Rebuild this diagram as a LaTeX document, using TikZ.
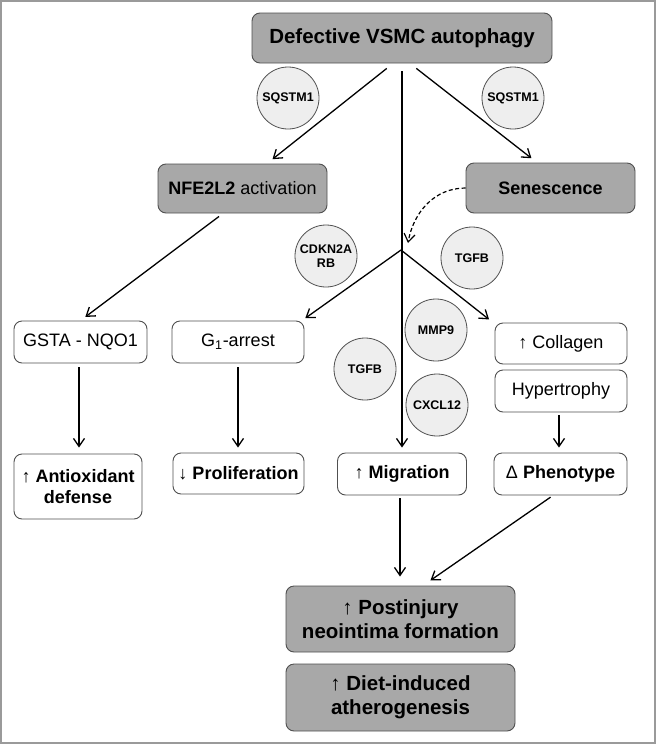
\documentclass[tikz,border=0pt]{standalone}
\usepackage{fontspec}
\setmainfont{Liberation Sans}
\usetikzlibrary{arrows.meta}
\definecolor{boxgray}{HTML}{A8A8A8}
\definecolor{circfill}{HTML}{EEEEEE}
\definecolor{edgegray}{HTML}{505050}
\definecolor{framegray}{HTML}{9A9A9A}
\begin{document}
\begin{tikzpicture}[x=1pt,y=-1pt,
  every node/.style={align=center,inner sep=0pt},
  dark/.style={draw=edgegray,fill=boxgray,rounded corners=8pt,line width=0.9pt},
  light/.style={draw=edgegray,rounded corners=8pt,line width=0.9pt},
  gene/.style={circle,draw=edgegray,fill=circfill,minimum size=62pt,line width=0.8pt,
    font=\fontsize{12.5}{14.5}\selectfont\bfseries},
  big/.style={font=\fontsize{20.5}{24}\selectfont\bfseries},
  mid/.style={font=\fontsize{18}{21}\selectfont},
  arr/.style={-{Straight Barb[length=8pt,width=11pt]},line width=1.3pt}]
\useasboundingbox (0,0) rectangle (656,745);
\draw[framegray,line width=2pt] (1,1) rectangle (655,743);

\node[dark,big,minimum width=300pt,minimum height=50pt] (top) at (402,38) {Defective VSMC autophagy};
\node[dark,mid,minimum width=169pt,minimum height=49pt] (nfe) at (242.5,188.5) {\textbf{NFE2L2} activation};
\node[dark,mid,font=\fontsize{18}{21}\selectfont\bfseries,minimum width=169pt,minimum height=50pt] (sen) at (550.5,188) {Senescence};

\node[light,mid,minimum width=133pt,minimum height=42pt] (gsta) at (80.5,342) {GSTA - NQO1};
\node[light,mid,minimum width=132pt,minimum height=42pt] (gone) at (238,342) {G\textsubscript{1}-arrest};
\node[light,mid,minimum width=132pt,minimum height=41pt] (coll) at (561,343.5) {↑ Collagen};
\node[light,mid,minimum width=132pt,minimum height=42pt] (hyp) at (561,391) {Hypertrophy};

\node[light,mid,minimum width=128pt,minimum height=65pt] (anti) at (78,486.5) {↑ \textbf{Antioxidant}\\\textbf{defense}};
\node[light,mid,minimum width=131pt,minimum height=41pt] (prol) at (238.5,473.5) {↓ \textbf{Proliferation}};
\node[light,mid,minimum width=129pt,minimum height=42pt] (mig) at (402,474) {↑ \textbf{Migration}};
\node[light,mid,minimum width=133pt,minimum height=42pt] (phen) at (560.5,474) {Δ \textbf{Phenotype}};

\node[dark,big,minimum width=229pt,minimum height=66pt] (post) at (400.5,619) {{\mdseries↑} Postinjury\\neointima formation};
\node[dark,big,minimum width=229pt,minimum height=67pt] (diet) at (400.5,697.5) {{\mdseries↑} Diet-induced\\atherogenesis};

\node[gene] (sqa) at (288,98) {SQSTM1};
\node[gene] (sqb) at (513,98) {SQSTM1};
\node[gene] (cdkn) at (326,256) {CDKN2A\\RB};
\node[gene] (tgfa) at (472,258) {TGFB};
\node[gene] (mmp) at (436,330) {MMP9};
\node[gene] (tgfb) at (365,369) {TGFB};
\node[gene] (cxcl) at (437,405) {CXCL12};

\coordinate (split) at (401,250);

\draw[arr,shorten <=8pt,shorten >=7pt] ([xshift=-9pt]top.south) -- ([xshift=24.5pt]nfe.north);
\draw[arr,shorten <=8pt,shorten >=7pt] ([xshift=8pt]top.south) -- ([xshift=-13.5pt]sen.north);
\draw[arr,shorten <=8pt,shorten >=5pt] (top.south) -- (mig.north);
\draw[arr,dashed,dash pattern=on 4pt off 2.5pt,line width=1.2pt] (sen.west) to[out=180,in=80] ([shift={(7,-7)}]split);
\draw[arr,shorten >=4pt] (split) -- ([xshift=64pt]gone.north);
\draw[arr,shorten >=5pt] (split) -- ([xshift=-68pt]coll.north);
\draw[arr,shorten <=5pt,shorten >=6pt] ([xshift=-19.5pt]nfe.south) -- (gsta.north);
\draw[arr,shorten <=4pt,shorten >=6pt] ([xshift=-1.5pt]gsta.south) -- ([xshift=1pt]anti.north);
\draw[arr,shorten <=4pt,shorten >=5pt] (gone.south) -- ([xshift=-0.5pt]prol.north);
\draw[arr,shorten <=3pt,shorten >=5pt] ([xshift=-2pt]hyp.south) -- ([xshift=-1.5pt]phen.north);
\draw[arr,shorten <=3pt,shorten >=9pt] ([xshift=-2pt]mig.south) -- ([xshift=-0.5pt]post.north);
\draw[arr,shorten <=3pt,shorten >=9pt] ([xshift=-7.5pt]phen.south) -- ([xshift=22.5pt]post.north);
\end{tikzpicture}
\end{document}
